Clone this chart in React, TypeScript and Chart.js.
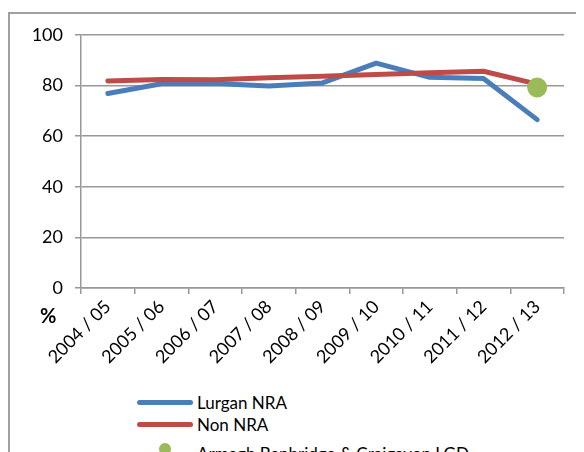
import React, { useEffect, useRef } from "react";
import { Chart, registerables } from "chart.js";

Chart.register(...registerables);

const categories = [
  "2004 / 05", "2005 / 06", "2006 / 07", "2007 / 08", "2008 / 09",
  "2009 / 10", "2010 / 11", "2011 / 12", "2012 / 13",
];
const lurganNRA = [76.8, 80.7, 80.8, 79.8, 81.0, 88.8, 83.2, 82.7, 66.5];
const nonNRA = [81.8, 82.3, 82.2, 83.0, 83.6, 84.3, 85.0, 85.6, 80.5];
const lgd = [null, null, null, null, null, null, null, null, 79.2];
const yMin = 0;
const yMax = 100;
const yStep = 20;

const seriesNames = ["Lurgan NRA", "Non NRA", "Armagh Banbridge & Craigavon LGD"];
const BLUE = "#4a7ebb";
const RED = "#be4b48";
const GREEN = "#9bbb59";
const GRID = "#989898";
const FONT = "Lato";

export default function App() {
  const ref = useRef<HTMLCanvasElement | null>(null);

  useEffect(() => {
    if (!ref.current) return;
    const chart = new Chart(ref.current, {
      type: "line",
      data: {
        labels: categories,
        datasets: [
          {
            label: seriesNames[0],
            data: lurganNRA,
            borderColor: BLUE,
            backgroundColor: BLUE,
            borderWidth: 5,
            pointRadius: 0,
            borderCapStyle: "round",
            borderJoinStyle: "round",
            tension: 0,
            order: 2,
          },
          {
            label: seriesNames[1],
            data: nonNRA,
            borderColor: RED,
            backgroundColor: RED,
            borderWidth: 5,
            pointRadius: 0,
            borderCapStyle: "round",
            borderJoinStyle: "round",
            tension: 0,
            order: 1,
          },
          {
            label: seriesNames[2],
            data: lgd as any,
            borderColor: GREEN,
            backgroundColor: GREEN,
            showLine: false,
            pointRadius: 10,
            pointBorderWidth: 0,
            order: 0,
          },
        ],
      },
      options: {
        animation: false,
        responsive: false,
        devicePixelRatio: 1,
        layout: { padding: { top: 22, right: 20, left: 0, bottom: 0 } },
        plugins: { legend: { display: false }, tooltip: { enabled: false }, title: { display: false } },
        scales: {
          x: {
            type: "category",
            offset: true,
            afterFit: (s: any) => { s.height = 104; },
            grid: { offset: true, drawOnChartArea: false, drawTicks: true, tickLength: 6, color: GRID, lineWidth: 1.5 },
            border: { display: true, color: GRID, width: 1.5 },
            ticks: {
              minRotation: 45,
              maxRotation: 45,
              padding: 2,
              color: "#000",
              font: { family: FONT, size: 18 },
            },
          },
          y: {
            min: yMin,
            max: yMax,
            afterFit: (s: any) => { s.width = 73; },
            grid: { color: GRID, lineWidth: 1.5, tickLength: 6 },
            border: { display: true, color: GRID, width: 1.5 },
            ticks: {
              stepSize: yStep,
              padding: 12,
              color: "#000",
              font: { family: FONT, size: 18 },
            },
          },
        },
      },
    });
    return () => chart.destroy();
  }, []);

  const textStyle: React.CSSProperties = {
    position: "absolute",
    fontFamily: FONT,
    fontSize: 17,
    lineHeight: "17px",
    color: "#000",
    whiteSpace: "nowrap",
  };

  return (
    <div style={{ position: "relative", width: 576, height: 444, overflow: "hidden" }}>
      <div
        style={{
          position: "absolute",
          left: 0,
          top: 4,
          width: 700,
          height: 600,
          borderLeft: `2px solid #a0a0a0`,
          borderTop: `2px solid #a0a0a0`,
          boxSizing: "border-box",
        }}
      />
      <canvas
        ref={ref}
        width={576}
        height={380}
        style={{ position: "absolute", left: 0, top: 4, width: 576, height: 380 }}
      />
      <div style={{ ...textStyle, left: 32, top: 297, fontSize: 20, lineHeight: "20px", fontWeight: 700 }}>%</div>

      <div style={{ position: "absolute", left: 129, top: 391.5, width: 56, height: 5, borderRadius: 3, background: BLUE }} />
      <div style={{ ...textStyle, left: 189, top: 386 }}>{seriesNames[0]}</div>

      <div style={{ position: "absolute", left: 129, top: 413.5, width: 56, height: 5, borderRadius: 3, background: RED }} />
      <div style={{ ...textStyle, left: 189, top: 408 }}>{seriesNames[1]}</div>

      <div style={{ position: "absolute", left: 151, top: 435, width: 12, height: 12, borderRadius: 6, background: GREEN }} />
      <div style={{ ...textStyle, left: 189, top: 437 }}>{seriesNames[2]}</div>
    </div>
  );
}
